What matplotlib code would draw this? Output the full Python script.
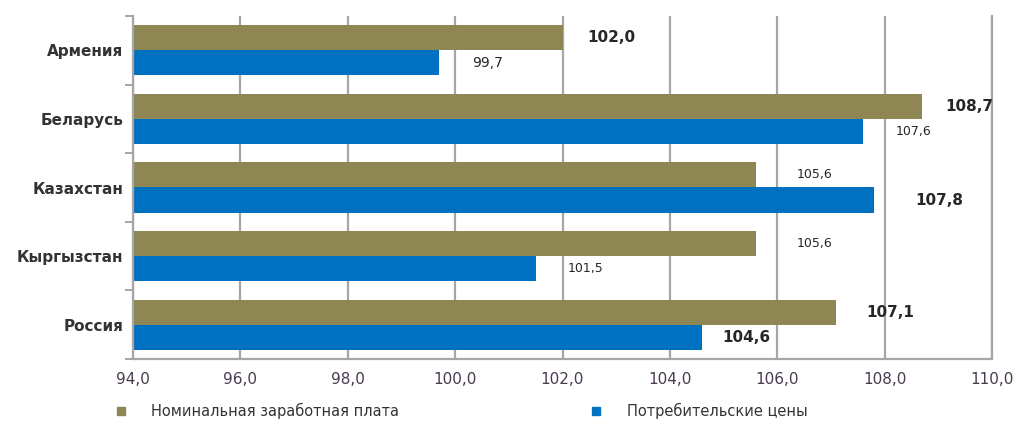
import matplotlib.pyplot as plt
from matplotlib.lines import Line2D
from matplotlib.ticker import FuncFormatter, FixedLocator

countries = ["Армения", "Беларусь", "Казахстан", "Кыргызстан", "Россия"]
wages = [102.0, 108.7, 105.6, 105.6, 107.1]
prices = [99.7, 107.6, 107.8, 101.5, 104.6]
series_names = ["Номинальная заработная плата", "Потребительские цены"]

# label look, per bar (offset in data units, font size, weight)
wage_lbl = [(0.47, 11, "bold"), (0.43, 11, "bold"), (0.76, 9, "normal"),
            (0.76, 9, "normal"), (0.56, 11, "bold")]
price_lbl = [(0.61, 10, "normal"), (0.60, 9, "normal"), (0.78, 11, "bold"),
             (0.60, 9, "normal"), (0.37, 11, "bold")]

OLIVE = "#8f8753"
BLUE = "#0070c0"
GRID = "#a6a6a6"

fig = plt.figure(figsize=(10.32, 4.23), dpi=100)
ax = fig.add_axes([133 / 1032, 1 - 359 / 423, (992 - 133) / 1032, (359 - 16) / 423])

h = 0.365
ypos = list(range(len(countries)))
ax.barh([y - h / 2 for y in ypos], wages, height=h, left=0, color=OLIVE, zorder=2)
ax.barh([y + h / 2 for y in ypos], prices, height=h, left=0, color=BLUE, zorder=2)

for y, v, (off, fs, fw) in zip(ypos, wages, wage_lbl):
    ax.text(v + off, y - h / 2, f"{v:.1f}".replace(".", ","), va="center", ha="left",
            fontsize=fs, fontweight=fw, color="#262626")
for y, v, (off, fs, fw) in zip(ypos, prices, price_lbl):
    ax.text(v + off, y + h / 2, f"{v:.1f}".replace(".", ","), va="center", ha="left",
            fontsize=fs, fontweight=fw, color="#262626")

ax.set_xlim(94, 110)
ax.set_ylim(4.5, -0.5)
ax.set_xticks(range(94, 111, 2))
ax.xaxis.set_major_formatter(FuncFormatter(lambda x, p: f"{x:.1f}".replace(".", ",")))
ax.tick_params(axis="x", length=0, pad=9, labelsize=11, labelcolor="#4a3a50")
ax.grid(axis="x", color=GRID, linewidth=1.6, zorder=1)

ax.set_yticks(ypos)
ax.set_yticklabels(countries, fontsize=11, fontweight="bold", color="#333333")
ax.yaxis.set_minor_locator(FixedLocator([-0.5, 0.5, 1.5, 2.5, 3.5, 4.5]))
ax.tick_params(axis="y", which="major", length=0, pad=7)
ax.tick_params(axis="y", which="minor", length=6, width=1.4, color=GRID, direction="out")

for s in ["left", "bottom", "right"]:
    ax.spines[s].set_color(GRID)
    ax.spines[s].set_linewidth(1.6)
ax.spines["top"].set_visible(False)

handles = [Line2D([], [], marker="s", linestyle="none", color=OLIVE, markersize=6),
           Line2D([], [], marker="s", linestyle="none", color=BLUE, markersize=6)]
fig.legend(handles, series_names, loc="center left", bbox_to_anchor=(93 / 1032, 1 - 411 / 423),
           ncol=2, frameon=False, fontsize=10.5, handletextpad=1.1, columnspacing=12.5,
           labelcolor="#333333")

fig.savefig("out.png", dpi=100)
